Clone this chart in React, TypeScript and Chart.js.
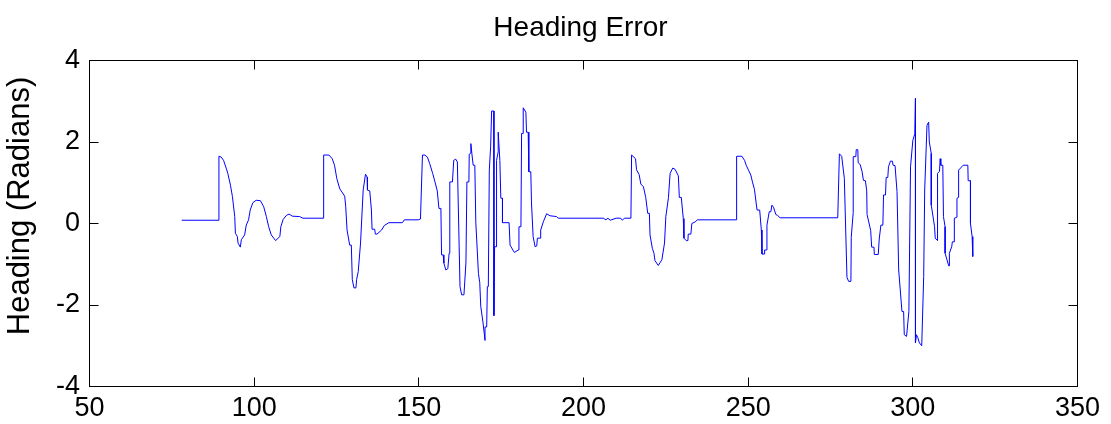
import React, { useEffect, useRef } from "react";
import { Chart, registerables } from "chart.js";

Chart.register(...registerables);

const chartTitle = "Heading Error";
const yAxisLabel = "Heading (Radians)";
const xTickValues = [50, 100, 150, 200, 250, 300, 350];
const yTickValues = [-4, -2, 0, 2, 4];

const timeValues = [
  78.0, 89.3, 89.3, 90.0, 90.7, 91.5, 92.0, 92.8, 93.4, 94.1,
  94.3, 94.9, 95.1, 95.8, 96.1, 97.1, 97.6, 98.3, 98.8, 99.6,
  100.6, 101.9, 102.9, 103.7, 104.4, 105.2, 106.5, 107.8, 108.1, 108.8,
  109.8, 110.6, 111.6, 113.8, 114.8, 121.1, 121.1, 122.7, 123.7, 124.4,
  125.1, 126.0, 127.5, 127.8, 128.2, 129.0, 129.5, 129.8, 130.3, 130.9,
  131.1, 131.6, 132.3, 133.1, 133.8, 134.3, 134.4, 135.1, 135.6, 135.8,
  136.6, 136.8, 137.3, 138.7, 139.5, 140.9, 145.0, 145.6, 149.8, 150.5,
  151.1, 151.8, 152.6, 153.3, 154.2, 154.9, 155.6, 156.1, 156.7, 156.9,
  157.4, 157.6, 158.2, 158.8, 159.2, 159.4, 160.2, 160.6, 161.2, 161.7,
  162.5, 163.0, 163.7, 164.3, 164.6, 165.2, 165.3, 165.7, 165.8, 166.1,
  166.5, 167.0, 167.3, 168.1, 168.5, 168.8, 169.5, 170.1, 170.1, 170.6,
  170.8, 171.1, 171.4, 171.8, 172.1, 172.8, 172.8, 173.0, 173.6, 173.6,
  174.1, 174.1, 174.6, 174.9, 175.4, 175.4, 177.4, 177.7, 179.0, 180.2,
  180.4, 181.0, 181.2, 181.7, 181.7, 182.5, 182.7, 183.2, 183.4, 184.0,
  184.2, 184.7, 185.3, 185.8, 186.0, 186.8, 187.0, 187.8, 188.8, 189.8,
  191.8, 192.3, 206.0, 206.8, 207.4, 208.1, 209.9, 211.3, 211.8, 212.4,
  214.4, 214.6, 215.8, 216.1, 216.9, 217.4, 218.2, 218.9, 219.5, 220.0,
  220.2, 220.9, 221.4, 221.7, 222.7, 223.8, 224.6, 225.0, 225.8, 226.3,
  227.1, 227.8, 228.8, 229.1, 229.7, 230.3, 230.5, 231.2, 231.7, 231.8,
  232.6, 232.9, 233.9, 234.6, 246.5, 246.5, 248.1, 248.9, 249.4, 250.1,
  250.8, 251.3, 251.9, 252.7, 253.5, 254.0, 254.2, 254.9, 255.0, 255.5,
  255.7, 256.4, 256.9, 257.2, 257.7, 258.4, 258.9, 259.7, 277.2, 277.7,
  278.4, 279.2, 280.0, 280.5, 281.2, 281.3, 281.9, 281.9, 282.7, 282.8,
  283.3, 283.4, 284.0, 284.6, 285.0, 285.6, 286.0, 286.1, 287.2, 287.5,
  288.2, 288.3, 289.5, 289.8, 290.3, 290.9, 291.1, 291.7, 291.9, 292.4,
  292.6, 293.2, 293.8, 294.0, 294.6, 295.2, 295.7, 296.7, 297.2, 297.4,
  298.1, 298.8, 299.3, 300.0, 300.6, 300.8, 300.8, 301.1, 301.5, 302.0,
  302.7, 303.3, 303.6, 304.3, 304.8, 305.0, 305.6, 305.6, 306.6, 306.8,
  307.5, 307.5, 308.1, 308.3, 308.5, 309.1, 309.3, 309.8, 309.8, 310.9,
  311.1, 311.1, 311.8, 312.0, 312.6, 312.6, 313.3, 313.4, 313.8, 313.9,
  315.3, 316.7, 316.8, 317.5, 317.5, 318.0, 318.2,
];

const headingValues = [
  0.08, 0.08, 1.65, 1.63, 1.55, 1.36, 1.23, 0.94, 0.66, 0.17,
  -0.24, -0.32, -0.48, -0.58, -0.40, -0.28, -0.04, 0.09, 0.33, 0.51,
  0.57, 0.56, 0.41, 0.17, -0.08, -0.28, -0.42, -0.32, -0.08, 0.10,
  0.20, 0.23, 0.18, 0.17, 0.13, 0.13, 1.68, 1.68, 1.59, 1.43,
  1.10, 0.85, 0.67, 0.41, -0.16, -0.53, -0.53, -1.38, -1.58, -1.58,
  -1.38, -1.18, -0.48, 0.82, 1.21, 1.14, 0.82, 0.80, 0.33, -0.14,
  -0.14, -0.26, -0.26, -0.16, -0.05, 0.02, 0.02, 0.09, 0.09, 0.11,
  1.68, 1.68, 1.63, 1.47, 1.23, 1.02, 0.80, 0.37, 0.37, -0.77,
  -0.77, -0.97, -1.14, -1.11, -0.73, 1.02, 1.02, 1.55, 1.58, 1.51,
  -1.55, -1.75, -1.75, -0.97, 1.02, 1.02, 1.70, 1.72, 1.96, 1.72,
  1.43, 1.43, 0.03, -1.23, -1.45, -2.03, -2.44, -2.87, -2.54, -2.54,
  -1.55, -1.55, 1.31, 1.88, 2.76, 2.76, -2.26, -0.57, -0.57, 1.55,
  1.76, 2.24, 1.55, 0.62, 0.62, 0.02, 0.02, -0.53, -0.71, -0.65,
  -0.08, -0.08, 2.21, 2.21, 2.84, 2.73, 2.24, 2.24, 1.27, 1.27,
  0.53, -0.32, -0.57, -0.55, -0.36, -0.36, -0.16, 0.04, 0.24, 0.19,
  0.17, 0.13, 0.13, 0.09, 0.13, 0.08, 0.13, 0.13, 0.08, 0.13,
  0.13, 1.68, 1.59, 1.32, 1.20, 0.97, 0.90, 0.64, 0.25, 0.25,
  -0.28, -0.61, -0.73, -0.91, -1.03, -0.89, -0.48, 0.17, 0.64, 1.23,
  1.36, 1.33, 1.17, 0.64, 0.64, 0.12, -0.36, -0.42, -0.42, -0.26,
  -0.26, 0.00, 0.04, 0.09, 0.09, 1.65, 1.65, 1.55, 1.43, 1.31,
  1.19, 1.02, 0.84, 0.33, 0.33, -0.16, -0.75, -0.75, -0.65, -0.65,
  -0.04, 0.29, 0.29, 0.45, 0.40, 0.22, 0.20, 0.14, 0.14, 1.71,
  1.65, 1.11, -1.32, -1.42, -1.42, -0.34, 0.27, 1.64, 1.64, 1.81,
  1.81, 1.49, 1.45, 1.27, 1.06, 1.05, 0.80, 0.22, -0.17, -0.58,
  -0.58, -0.76, -0.76, -0.38, -0.04, -0.04, 0.70, 0.70, 1.13, 1.13,
  1.39, 1.53, 1.53, 1.43, 1.42, 0.78, -1.14, -2.16, -2.16, -2.73,
  -2.77, -2.16, 1.39, 2.04, 2.20, 3.07, -2.93, -2.73, -2.80, -2.93,
  -3.00, -1.30, 0.82, 2.41, 2.49, 2.00, 1.72, 0.45, -0.08, -0.36,
  -0.42, 1.23, 1.28, 1.59, 1.43, 1.43, 0.17, -0.08, -0.73, -1.04,
  -1.04, -0.73, -0.57, -0.45, -0.45, 0.13, 0.15, 0.62, 0.64, 1.31,
  1.43, 1.43, 1.05, 1.05, 0.00, -0.32, -0.81,
];

const FONT = "'Liberation Sans', Arial, Helvetica, sans-serif";
const TICK_LEN = 9;

const framePlugin = {
  id: "matlabFrame",
  afterDraw(chart: any) {
    const { ctx, chartArea: a, scales } = chart;
    const xs = scales.x;
    const ys = scales.y;
    ctx.save();
    ctx.strokeStyle = "#000000";
    ctx.lineWidth = 1;
    ctx.strokeRect(a.left, a.top, a.right - a.left, a.bottom - a.top);
    ctx.beginPath();
    for (const v of xTickValues) {
      const px = Math.floor(xs.getPixelForValue(v)) + 0.5;
      ctx.moveTo(px, a.bottom);
      ctx.lineTo(px, a.bottom - TICK_LEN);
      ctx.moveTo(px, a.top);
      ctx.lineTo(px, a.top + TICK_LEN);
    }
    for (const v of yTickValues) {
      const py = Math.floor(ys.getPixelForValue(v)) + 0.5;
      ctx.moveTo(a.left, py);
      ctx.lineTo(a.left + TICK_LEN, py);
      ctx.moveTo(a.right, py);
      ctx.lineTo(a.right - TICK_LEN, py);
    }
    ctx.stroke();

    ctx.fillStyle = "#000000";
    ctx.textAlign = "center";
    ctx.textBaseline = "middle";
    ctx.font = `28px ${FONT}`;
    ctx.fillText(chartTitle, (a.left + a.right) / 2 - 3, 28);

    ctx.translate(20, 206);
    ctx.rotate(-Math.PI / 2);
    ctx.font = `31px ${FONT}`;
    ctx.fillText(yAxisLabel, 0, 0);
    ctx.restore();
  },
};

export default function App() {
  const canvasRef = useRef<HTMLCanvasElement | null>(null);

  useEffect(() => {
    const canvas = canvasRef.current;
    if (!canvas) return;
    const points = timeValues.map((t, i) => ({ x: t, y: headingValues[i] }));
    const chart = new Chart(canvas, {
      type: "line",
      data: {
        datasets: [
          {
            data: points,
            borderColor: "#0000ff",
            borderWidth: 1,
            pointRadius: 0,
            tension: 0,
            fill: false,
          },
        ],
      },
      options: {
        animation: false,
        responsive: false,
        devicePixelRatio: 1,
        parsing: false as any,
        layout: { padding: { top: 60.5, right: 33.5, left: 0, bottom: 0 } },
        plugins: {
          legend: { display: false },
          tooltip: { enabled: false },
          title: { display: false },
        },
        scales: {
          x: {
            type: "linear",
            min: 50,
            max: 350,
            grid: { display: false, drawTicks: false },
            border: { display: false },
            ticks: {
              stepSize: 50,
              autoSkip: false,
              maxRotation: 0,
              padding: 6,
              color: "#000000",
              font: { family: FONT, size: 27 },
            },
            afterFit: (scale: any) => {
              scale.height = 37.5;
            },
          },
          y: {
            type: "linear",
            min: -4,
            max: 4,
            grid: { display: false, drawTicks: false },
            border: { display: false },
            ticks: {
              stepSize: 2,
              autoSkip: false,
              padding: 9.5,
              color: "#000000",
              font: { family: FONT, size: 27 },
            },
            afterFit: (scale: any) => {
              scale.width = 89.5;
            },
          },
        },
      },
      plugins: [framePlugin],
    });
    return () => chart.destroy();
  }, []);

  return (
    <div style={{ position: "absolute", left: 0, top: 0, width: 1111, height: 424, background: "#ffffff" }}>
      <canvas ref={canvasRef} width={1111} height={424} style={{ display: "block" }} />
    </div>
  );
}
